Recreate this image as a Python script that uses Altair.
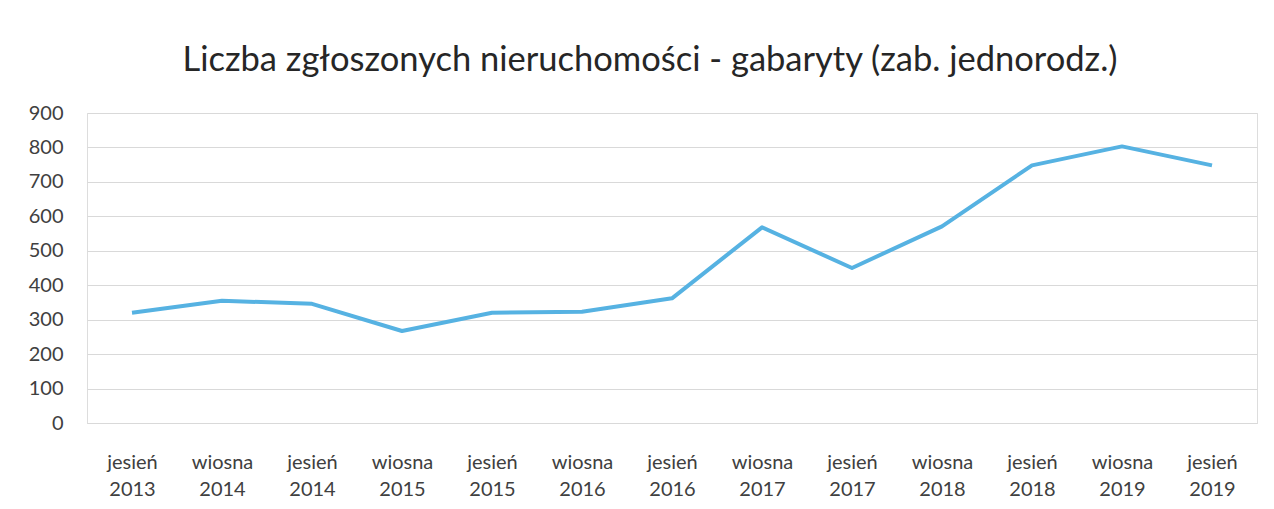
import altair as alt
import pandas as pd

seasons = ["jesień", "wiosna", "jesień", "wiosna", "jesień", "wiosna", "jesień",
           "wiosna", "jesień", "wiosna", "jesień", "wiosna", "jesień"]
years = ["2013", "2014", "2014", "2015", "2015", "2016", "2016",
         "2017", "2017", "2018", "2018", "2019", "2019"]
values = [320, 355, 346, 267, 320, 323, 362, 568, 450, 571, 748, 803, 748]

categories = [f"{s} {y}" for s, y in zip(seasons, years)]
df = pd.DataFrame({"okres": categories, "liczba": values})

FONT = "Lato"
TEXT = "#404040"

chart = alt.Chart(df).mark_line(color="#56b2e2", strokeWidth=4, strokeJoin="round").encode(
    x=alt.X("okres:N", sort=categories, title=None,
            scale=alt.Scale(padding=0.5),
            axis=alt.Axis(labelAngle=0, labelExpr="split(datum.label, ' ')",
                          labelFont=FONT, labelFontSize=20, labelColor=TEXT,
                          labelPadding=29, labelLineHeight=27, ticks=False,
                          domain=True, domainColor="#d9d9d9", grid=False)),
    y=alt.Y("liczba:Q", title=None,
            scale=alt.Scale(domain=[0, 900], nice=False),
            axis=alt.Axis(values=list(range(0, 1000, 100)), labelFont=FONT,
                          labelFontSize=20, labelColor=TEXT, labelPadding=24,
                          ticks=False, domain=False, gridColor="#d9d9d9",
                          gridWidth=1)),
).properties(
    width=1170,
    height=310,
    padding={"left": 79, "top": 105, "right": 9, "bottom": 78},
    autosize=alt.AutoSizeParams(type="none"),
    title=alt.TitleParams(
        "Liczba zgłoszonych nieruchomości - gabaryty (zab. jednorodz.)",
        font=FONT, fontSize=34.5, fontWeight="normal", color="#262626",
        anchor="middle", dx=-22, dy=45, offset=36, baseline="bottom"),
).configure_view(stroke=None).configure(background="white")

chart.save("out.html", embed_options={"renderer": "svg", "actions": False})
